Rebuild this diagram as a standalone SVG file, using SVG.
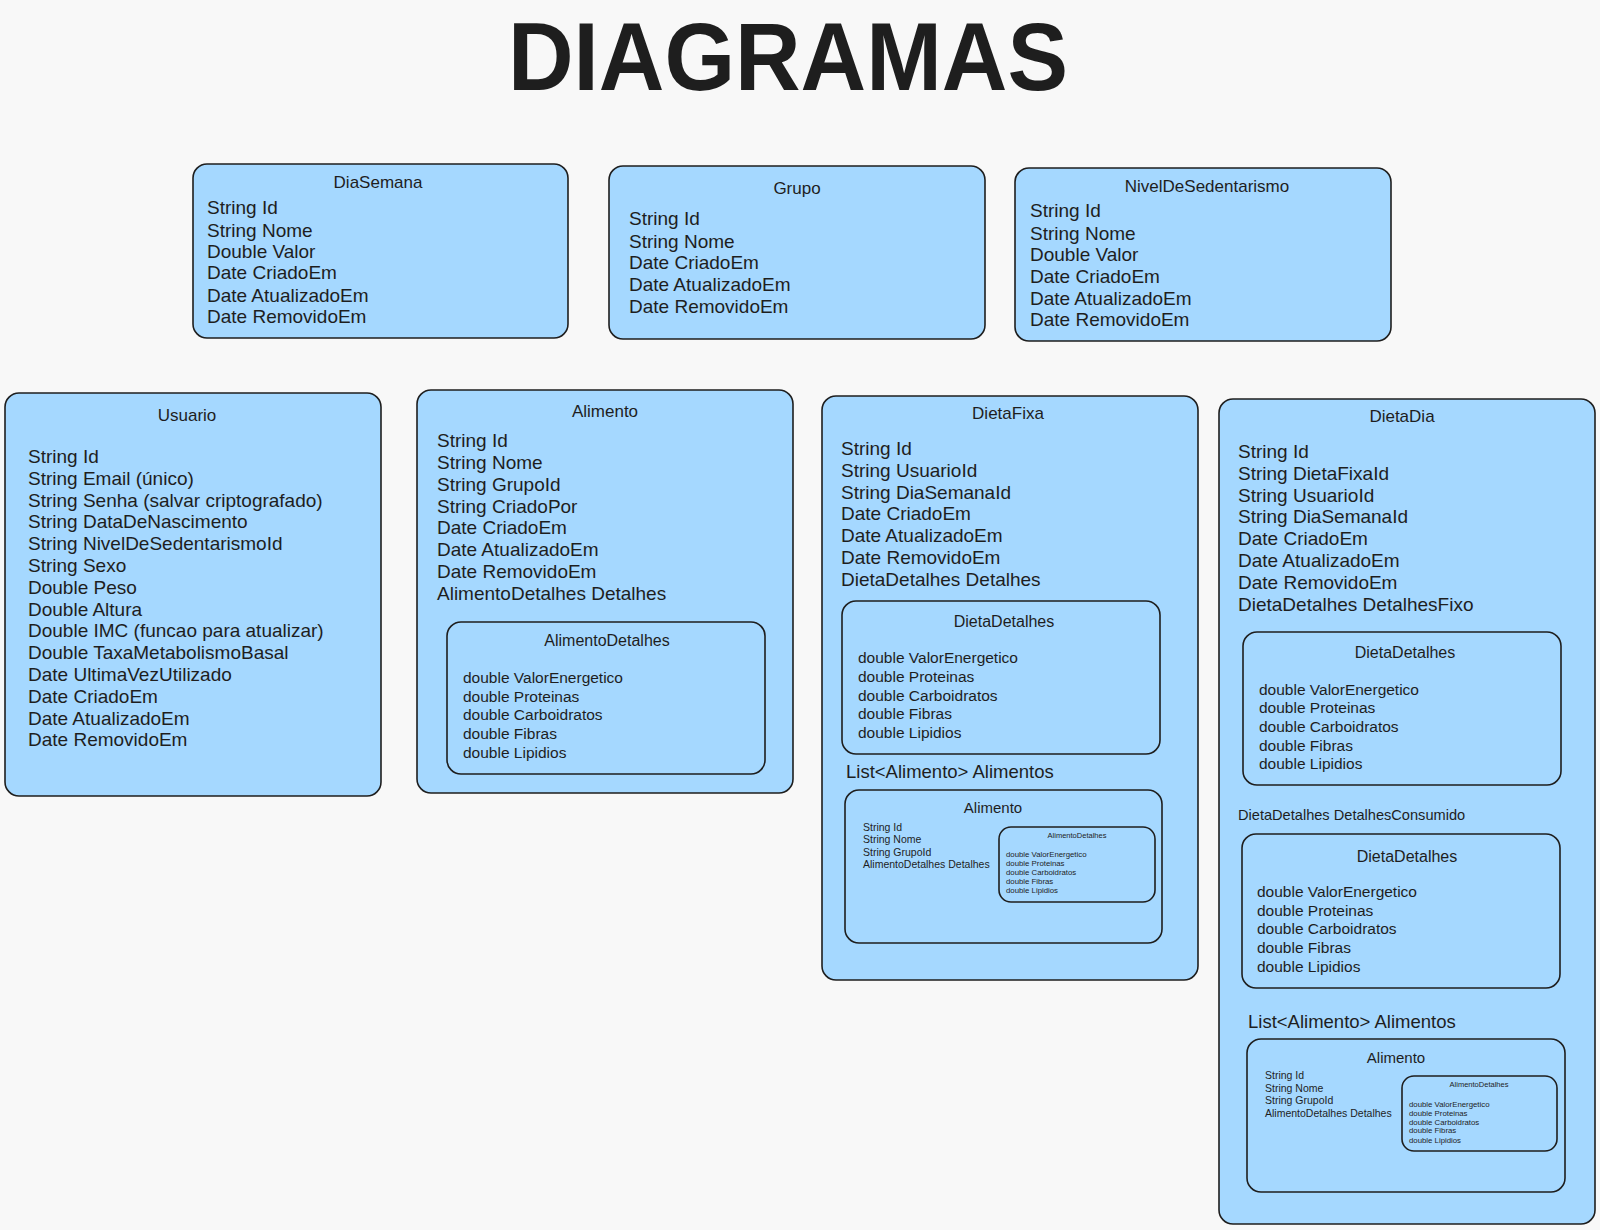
<svg xmlns="http://www.w3.org/2000/svg" width="1600" height="1230" viewBox="0 0 1600 1230">
<style>
text{font-family:"Liberation Sans",Arial,sans-serif;fill:#1e1e1e}
.box{fill:#a5d8ff;stroke:#1e1e1e;stroke-width:1.6}
.ibox{fill:none;stroke:#1e1e1e;stroke-width:1.6}
.h{font-size:96px;font-weight:bold}
.t{font-size:17px;text-anchor:middle}
.f{font-size:19px}
.dt{font-size:16px;text-anchor:middle}
.df{font-size:15.5px}
.lst{font-size:18.5px}
.cons{font-size:14.6px}
.st{font-size:15px;text-anchor:middle}
.sf{font-size:10.5px}
.xt{font-size:7.5px;text-anchor:middle}
.xf{font-size:7.8px}
</style>
<rect width="1600" height="1230" fill="#f8f8f8"/>
<text class="h" x="788" y="90" text-anchor="middle" textLength="560" lengthAdjust="spacingAndGlyphs">DIAGRAMAS</text>

<g id="DiaSemana">
<rect class="box" x="193" y="164" width="375" height="174" rx="14"/>
<text class="t" x="378" y="188">DiaSemana</text>
<text class="f" x="207" y="214">String Id</text>
<text class="f" x="207" y="237">String Nome</text>
<text class="f" x="207" y="258">Double Valor</text>
<text class="f" x="207" y="279">Date CriadoEm</text>
<text class="f" x="207" y="302">Date AtualizadoEm</text>
<text class="f" x="207" y="323">Date RemovidoEm</text>
</g>

<g id="Grupo">
<rect class="box" x="609" y="166" width="376" height="173" rx="14"/>
<text class="t" x="797" y="194">Grupo</text>
<text class="f" x="629" y="225">String Id</text>
<text class="f" x="629" y="248">String Nome</text>
<text class="f" x="629" y="269">Date CriadoEm</text>
<text class="f" x="629" y="291">Date AtualizadoEm</text>
<text class="f" x="629" y="313">Date RemovidoEm</text>
</g>

<g id="NivelDeSedentarismo">
<rect class="box" x="1015" y="168" width="376" height="173" rx="14"/>
<text class="t" x="1207" y="192">NivelDeSedentarismo</text>
<text class="f" x="1030" y="217">String Id</text>
<text class="f" x="1030" y="240">String Nome</text>
<text class="f" x="1030" y="261">Double Valor</text>
<text class="f" x="1030" y="283">Date CriadoEm</text>
<text class="f" x="1030" y="305">Date AtualizadoEm</text>
<text class="f" x="1030" y="326">Date RemovidoEm</text>
</g>

<g id="Usuario">
<rect class="box" x="5" y="393" width="376" height="403" rx="14"/>
<text class="t" x="187" y="421">Usuario</text>
<text class="f" x="28" y="463">String Id</text>
<text class="f" x="28" y="485">String Email (único)</text>
<text class="f" x="28" y="507">String Senha (salvar criptografado)</text>
<text class="f" x="28" y="528">String DataDeNascimento</text>
<text class="f" x="28" y="550">String NivelDeSedentarismoId</text>
<text class="f" x="28" y="572">String Sexo</text>
<text class="f" x="28" y="594">Double Peso</text>
<text class="f" x="28" y="616">Double Altura</text>
<text class="f" x="28" y="637">Double IMC (funcao para atualizar)</text>
<text class="f" x="28" y="659">Double TaxaMetabolismoBasal</text>
<text class="f" x="28" y="681">Date UltimaVezUtilizado</text>
<text class="f" x="28" y="703">Date CriadoEm</text>
<text class="f" x="28" y="725">Date AtualizadoEm</text>
<text class="f" x="28" y="746">Date RemovidoEm</text>
</g>

<g id="Alimento">
<rect class="box" x="417" y="390" width="376" height="403" rx="14"/>
<text class="t" x="605" y="417">Alimento</text>
<text class="f" x="437" y="447">String Id</text>
<text class="f" x="437" y="469">String Nome</text>
<text class="f" x="437" y="491">String GrupoId</text>
<text class="f" x="437" y="513">String CriadoPor</text>
<text class="f" x="437" y="534">Date CriadoEm</text>
<text class="f" x="437" y="556">Date AtualizadoEm</text>
<text class="f" x="437" y="578">Date RemovidoEm</text>
<text class="f" x="437" y="600">AlimentoDetalhes Detalhes</text>
<g id="Alimento-AlimentoDetalhes">
<rect class="ibox" x="447" y="622" width="318" height="152" rx="14"/>
<text class="dt" x="607" y="646">AlimentoDetalhes</text>
<text class="df" x="463" y="683">double ValorEnergetico</text>
<text class="df" x="463" y="702">double Proteinas</text>
<text class="df" x="463" y="720">double Carboidratos</text>
<text class="df" x="463" y="739">double Fibras</text>
<text class="df" x="463" y="758">double Lipidios</text>
</g>
</g>

<g id="DietaFixa">
<rect class="box" x="822" y="396" width="376" height="584" rx="14"/>
<text class="t" x="1008" y="419">DietaFixa</text>
<text class="f" x="841" y="455">String Id</text>
<text class="f" x="841" y="477">String UsuarioId</text>
<text class="f" x="841" y="499">String DiaSemanaId</text>
<text class="f" x="841" y="520">Date CriadoEm</text>
<text class="f" x="841" y="542">Date AtualizadoEm</text>
<text class="f" x="841" y="564">Date RemovidoEm</text>
<text class="f" x="841" y="586">DietaDetalhes Detalhes</text>
<g id="DietaFixa-DietaDetalhes">
<rect class="ibox" x="842" y="601" width="318" height="153" rx="14"/>
<text class="dt" x="1004" y="627">DietaDetalhes</text>
<text class="df" x="858" y="663">double ValorEnergetico</text>
<text class="df" x="858" y="682">double Proteinas</text>
<text class="df" x="858" y="701">double Carboidratos</text>
<text class="df" x="858" y="719">double Fibras</text>
<text class="df" x="858" y="738">double Lipidios</text>
</g>
<text class="lst" x="846" y="778">List&lt;Alimento&gt; Alimentos</text>
<g id="DietaFixa-Alimento">
<rect class="ibox" x="845" y="790" width="317" height="153" rx="14"/>
<text class="st" x="993" y="813">Alimento</text>
<text class="sf" x="863" y="831">String Id</text>
<text class="sf" x="863" y="843">String Nome</text>
<text class="sf" x="863" y="856">String GrupoId</text>
<text class="sf" x="863" y="868">AlimentoDetalhes Detalhes</text>
<g id="DietaFixa-Alimento-AlimentoDetalhes">
<rect class="ibox" x="999" y="827" width="156" height="75" rx="12"/>
<text class="xt" x="1077" y="838">AlimentoDetalhes</text>
<text class="xf" x="1006" y="857">double ValorEnergetico</text>
<text class="xf" x="1006" y="866">double Proteinas</text>
<text class="xf" x="1006" y="875">double Carboidratos</text>
<text class="xf" x="1006" y="884">double Fibras</text>
<text class="xf" x="1006" y="893">double Lipidios</text>
</g>
</g>
</g>

<g id="DietaDia">
<rect class="box" x="1219" y="399" width="376" height="825" rx="14"/>
<text class="t" x="1402" y="422">DietaDia</text>
<text class="f" x="1238" y="458">String Id</text>
<text class="f" x="1238" y="480">String DietaFixaId</text>
<text class="f" x="1238" y="502">String UsuarioId</text>
<text class="f" x="1238" y="523">String DiaSemanaId</text>
<text class="f" x="1238" y="545">Date CriadoEm</text>
<text class="f" x="1238" y="567">Date AtualizadoEm</text>
<text class="f" x="1238" y="589">Date RemovidoEm</text>
<text class="f" x="1238" y="611">DietaDetalhes DetalhesFixo</text>
<g id="DietaDia-DietaDetalhesFixo">
<rect class="ibox" x="1243" y="632" width="318" height="153" rx="14"/>
<text class="dt" x="1405" y="658">DietaDetalhes</text>
<text class="df" x="1259" y="695">double ValorEnergetico</text>
<text class="df" x="1259" y="713">double Proteinas</text>
<text class="df" x="1259" y="732">double Carboidratos</text>
<text class="df" x="1259" y="751">double Fibras</text>
<text class="df" x="1259" y="769">double Lipidios</text>
</g>
<text class="cons" x="1238" y="820">DietaDetalhes DetalhesConsumido</text>
<g id="DietaDia-DietaDetalhesConsumido">
<rect class="ibox" x="1242" y="834" width="318" height="154" rx="14"/>
<text class="dt" x="1407" y="862">DietaDetalhes</text>
<text class="df" x="1257" y="897">double ValorEnergetico</text>
<text class="df" x="1257" y="916">double Proteinas</text>
<text class="df" x="1257" y="934">double Carboidratos</text>
<text class="df" x="1257" y="953">double Fibras</text>
<text class="df" x="1257" y="972">double Lipidios</text>
</g>
<text class="lst" x="1248" y="1028">List&lt;Alimento&gt; Alimentos</text>
<g id="DietaDia-Alimento">
<rect class="ibox" x="1247" y="1039" width="318" height="153" rx="14"/>
<text class="st" x="1396" y="1063">Alimento</text>
<text class="sf" x="1265" y="1079">String Id</text>
<text class="sf" x="1265" y="1092">String Nome</text>
<text class="sf" x="1265" y="1104">String GrupoId</text>
<text class="sf" x="1265" y="1117">AlimentoDetalhes Detalhes</text>
<g id="DietaDia-Alimento-AlimentoDetalhes">
<rect class="ibox" x="1402" y="1076" width="155" height="75" rx="12"/>
<text class="xt" x="1479" y="1087">AlimentoDetalhes</text>
<text class="xf" x="1409" y="1107">double ValorEnergetico</text>
<text class="xf" x="1409" y="1116">double Proteinas</text>
<text class="xf" x="1409" y="1125">double Carboidratos</text>
<text class="xf" x="1409" y="1133">double Fibras</text>
<text class="xf" x="1409" y="1143">double Lipidios</text>
</g>
</g>
</g>

<g id="connectors"></g>
</svg>
